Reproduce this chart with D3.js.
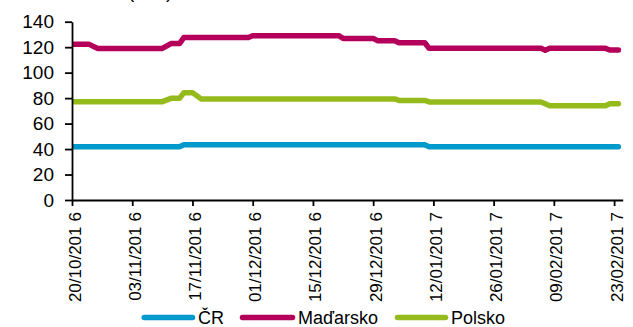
<!DOCTYPE html>
<html>
<head>
<meta charset="utf-8">
<script src="https://cdn.jsdelivr.net/npm/d3@7"></script>
<style>
  html, body { margin: 0; padding: 0; background: #fff; }
  svg { display: block; font-family: "Liberation Sans", Arial, sans-serif; }
</style>
</head>
<body>
<svg id="chart" width="633" height="327"></svg>
<script>
// Observation dates (points where the spreads move)
const dates = [
  "2016-10-20", "2016-10-24", "2016-10-26", "2016-11-10", "2016-11-12",
  "2016-11-14", "2016-11-15", "2016-11-17", "2016-11-19", "2016-11-30",
  "2016-12-01", "2016-12-21", "2016-12-22", "2016-12-29", "2016-12-30",
  "2017-01-03", "2017-01-04", "2017-01-10", "2017-01-11", "2017-02-06",
  "2017-02-07", "2017-02-08", "2017-02-21", "2017-02-22", "2017-02-24"
];

const cr = [
  41.8, 41.8, 41.8, 41.8, 41.8,
  41.8, 43.3, 43.3, 43.3, 43.3,
  43.3, 43.3, 43.3, 43.3, 43.3,
  43.3, 43.3, 43.3, 41.8, 41.8,
  41.8, 41.8, 41.8, 41.8, 41.8
];

const madarsko = [
  122.2, 122.2, 119.0, 119.0, 122.8,
  122.8, 127.6, 127.6, 127.6, 127.6,
  129.0, 129.0, 126.9, 126.9, 125.1,
  125.1, 123.5, 123.5, 119.1, 119.1,
  117.6, 119.1, 119.1, 117.8, 117.8
];

const polsko = [
  77.2, 77.2, 77.2, 77.2, 79.8,
  79.8, 84.3, 84.3, 79.4, 79.4,
  79.4, 79.4, 79.4, 79.4, 79.4,
  79.4, 78.2, 78.2, 77.0, 77.0,
  75.5, 74.0, 74.0, 75.6, 75.6
];

const seriesNames = ["ČR", "Maďarsko", "Polsko"];
const seriesColors = ["#0099CC", "#B5005B", "#95BA1C"];

const xTickLabels = [
  "20/10/2016", "03/11/2016", "17/11/2016", "01/12/2016", "15/12/2016",
  "29/12/2016", "12/01/2017", "26/01/2017", "09/02/2017", "23/02/2017"
];
const yTicks = [0, 20, 40, 60, 80, 100, 120, 140];
const unitLabel = "(b.b.)";

const parseIso = d3.utcParse("%Y-%m-%d");
const parseDmy = d3.utcParse("%d/%m/%Y");
const fmtDmy = d3.utcFormat("%d/%m/%Y");

const svg = d3.select("#chart");

const x = d3.scaleUtc()
  .domain([parseIso("2016-10-20"), parseIso("2017-02-25")])
  .range([72, 622.7]);
const y = d3.scaleLinear().domain([0, 140]).range([200, 21.7]);

// unit caption, partly above the visible area
svg.append("text")
  .attr("x", 128).attr("y", -2)
  .attr("font-size", 19).attr("fill", "#000")
  .text(unitLabel);

// plot clip so line caps don't spill left of the axis
svg.append("defs").append("clipPath").attr("id", "plotClip")
  .append("rect").attr("x", 72).attr("y", 0).attr("width", 561).attr("height", 210);

const series = [cr, madarsko, polsko];
const line = d3.line()
  .x((d, i) => x(parseIso(dates[i])))
  .y(d => y(d));

const lines = svg.append("g").attr("clip-path", "url(#plotClip)");
series.forEach((vals, k) => {
  lines.append("path")
    .datum(vals)
    .attr("d", line)
    .attr("fill", "none")
    .attr("stroke", seriesColors[k])
    .attr("stroke-width", 5.5)
    .attr("stroke-linejoin", "round")
    .attr("stroke-linecap", "round");
});

// y axis
const yAxis = svg.append("g")
  .attr("transform", "translate(72,0)")
  .call(d3.axisLeft(y).tickValues(yTicks).tickSize(7).tickPadding(11).tickSizeOuter(0));
yAxis.select(".domain").attr("stroke", "#000").attr("stroke-width", 1.8);
yAxis.selectAll(".tick line").attr("stroke", "#000").attr("stroke-width", 1.8);
yAxis.selectAll(".tick text")
  .attr("font-size", 19).attr("fill", "#000")
  .attr("font-family", "'Liberation Sans', Arial, sans-serif");

// x axis
const xTicks = xTickLabels.map(parseDmy);
const xAxis = svg.append("g")
  .attr("transform", "translate(0,200)")
  .call(d3.axisBottom(x).tickValues(xTicks).tickSize(6).tickSizeOuter(0).tickFormat(fmtDmy));
xAxis.select(".domain").attr("stroke", "#000").attr("stroke-width", 1.8);
xAxis.selectAll(".tick line").attr("stroke", "#000").attr("stroke-width", 1.8);
xAxis.selectAll(".tick text").each(function (d) {
  const s = fmtDmy(d);
  const t = d3.select(this);
  t.text(null)
    .attr("font-size", 17).attr("fill", "#000")
    .attr("font-family", "'Liberation Sans', Arial, sans-serif")
    .attr("text-anchor", "end")
    .attr("dy", null)
    .attr("y", null)
    .attr("transform", "translate(8,12) rotate(-90)");
  t.append("tspan").text(s.slice(0, -1));
  t.append("tspan").attr("dx", 5).text(s.slice(-1));
});

// legend
const legendItems = [
  { x1: 141.7, x2: 195 },
  { x1: 240, x2: 295 },
  { x1: 395, x2: 448 }
];
const legend = svg.append("g");
seriesNames.forEach((name, k) => {
  const it = legendItems[k];
  legend.append("line")
    .attr("x1", it.x1 + 2.5).attr("x2", it.x2 - 2.5)
    .attr("y1", 317.5).attr("y2", 317.5)
    .attr("stroke", seriesColors[k]).attr("stroke-width", 5.5)
    .attr("stroke-linecap", "round");
  legend.append("text")
    .attr("x", it.x2 + 3).attr("y", 324)
    .attr("font-size", 18).attr("fill", "#000")
    .text(name);
});
</script>
</body>
</html>
